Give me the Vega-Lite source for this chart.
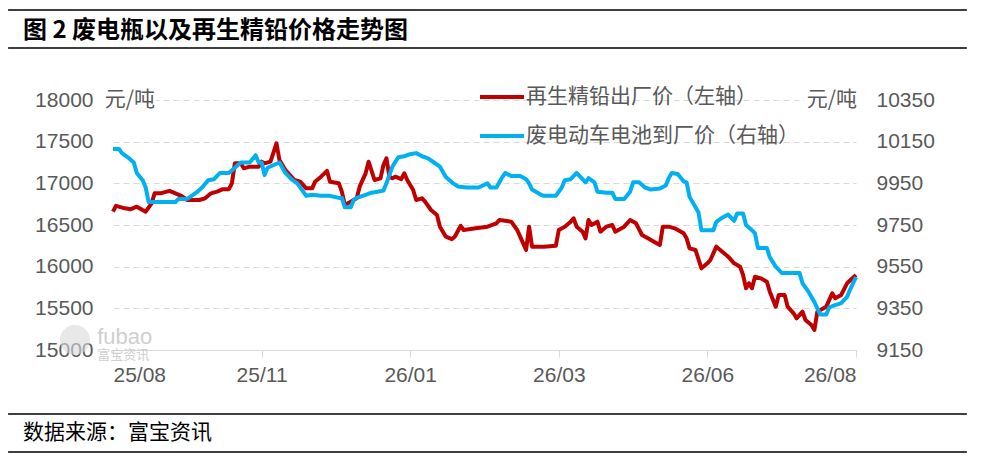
{
  "$schema": "https://vega.github.io/schema/vega-lite/v6.json",
  "width": 743,
  "height": 250,
  "autosize": {"type": "none"},
  "padding": {"left": 113, "top": 100, "right": 136, "bottom": 111},
  "background": "#ffffff",
  "config": {
    "view": {"stroke": null},
    "font": "Liberation Sans",
    "axis": {"labelFont": "Liberation Sans", "labelFontSize": 21, "labelColor": "#595959"},
    "legend": {
      "orient": "none",
      "legendX": 365,
      "legendY": -27,
      "direction": "vertical",
      "symbolType": "stroke",
      "symbolSize": 1936,
      "symbolStrokeWidth": 4,
      "labelFont": "Noto Sans CJK SC",
      "labelFontSize": 21,
      "labelColor": "#595959",
      "labelOffset": 0,
      "labelLimit": 400,
      "rowPadding": 5,
      "padding": 0
    }
  },
  "datasets": {
    "lead": [
      {"i": 0, "price": 16660}, {"i": 1, "price": 16730}, {"i": 4, "price": 16700}, {"i": 6, "price": 16690},
      {"i": 8, "price": 16720}, {"i": 11, "price": 16660}, {"i": 13, "price": 16760}, {"i": 14, "price": 16880},
      {"i": 16, "price": 16880}, {"i": 19, "price": 16910}, {"i": 21, "price": 16880}, {"i": 23, "price": 16850},
      {"i": 25, "price": 16800}, {"i": 29, "price": 16800}, {"i": 31, "price": 16820}, {"i": 33, "price": 16880},
      {"i": 35, "price": 16900}, {"i": 37, "price": 16930}, {"i": 39, "price": 16930}, {"i": 40, "price": 17000},
      {"i": 41, "price": 17240}, {"i": 43, "price": 17240}, {"i": 44, "price": 17180}, {"i": 46, "price": 17200},
      {"i": 49, "price": 17200}, {"i": 50, "price": 17260}, {"i": 51, "price": 17240}, {"i": 53, "price": 17260},
      {"i": 55, "price": 17480}, {"i": 56, "price": 17280}, {"i": 58, "price": 17160}, {"i": 60, "price": 17080},
      {"i": 61, "price": 17040}, {"i": 63, "price": 17020}, {"i": 65, "price": 16940}, {"i": 67, "price": 16940},
      {"i": 68, "price": 17020}, {"i": 70, "price": 17080}, {"i": 72, "price": 17150}, {"i": 73, "price": 17020},
      {"i": 76, "price": 17000}, {"i": 77, "price": 16900}, {"i": 78, "price": 16740}, {"i": 80, "price": 16780},
      {"i": 82, "price": 16820}, {"i": 83, "price": 16960}, {"i": 85, "price": 17120}, {"i": 86, "price": 17260},
      {"i": 88, "price": 17040}, {"i": 90, "price": 17060}, {"i": 91, "price": 17220}, {"i": 92, "price": 17300},
      {"i": 93, "price": 17080}, {"i": 94, "price": 17060}, {"i": 95, "price": 17080}, {"i": 97, "price": 17050},
      {"i": 98, "price": 17120}, {"i": 99, "price": 17040}, {"i": 101, "price": 16920}, {"i": 102, "price": 16800},
      {"i": 104, "price": 16820}, {"i": 105, "price": 16780}, {"i": 107, "price": 16680}, {"i": 109, "price": 16620},
      {"i": 110, "price": 16480}, {"i": 112, "price": 16360}, {"i": 114, "price": 16330}, {"i": 115, "price": 16360},
      {"i": 117, "price": 16490}, {"i": 118, "price": 16440}, {"i": 122, "price": 16460}, {"i": 126, "price": 16480},
      {"i": 129, "price": 16520}, {"i": 130, "price": 16560}, {"i": 132, "price": 16550}, {"i": 134, "price": 16540},
      {"i": 136, "price": 16440}, {"i": 137, "price": 16360}, {"i": 139, "price": 16200}, {"i": 140, "price": 16480},
      {"i": 141, "price": 16240}, {"i": 145, "price": 16240}, {"i": 149, "price": 16250}, {"i": 150, "price": 16440},
      {"i": 152, "price": 16480}, {"i": 154, "price": 16540}, {"i": 155, "price": 16580}, {"i": 156, "price": 16480},
      {"i": 158, "price": 16420}, {"i": 159, "price": 16340}, {"i": 160, "price": 16560}, {"i": 161, "price": 16500},
      {"i": 163, "price": 16540}, {"i": 164, "price": 16420}, {"i": 166, "price": 16480}, {"i": 168, "price": 16500},
      {"i": 169, "price": 16420}, {"i": 172, "price": 16480}, {"i": 174, "price": 16560}, {"i": 176, "price": 16520},
      {"i": 178, "price": 16380}, {"i": 180, "price": 16340}, {"i": 182, "price": 16300}, {"i": 184, "price": 16260},
      {"i": 185, "price": 16480}, {"i": 187, "price": 16480}, {"i": 189, "price": 16460}, {"i": 192, "price": 16400},
      {"i": 193, "price": 16340}, {"i": 194, "price": 16220}, {"i": 196, "price": 16200}, {"i": 198, "price": 15980},
      {"i": 200, "price": 16040}, {"i": 201, "price": 16080}, {"i": 203, "price": 16240}, {"i": 205, "price": 16180},
      {"i": 207, "price": 16120}, {"i": 209, "price": 16040}, {"i": 211, "price": 16000}, {"i": 212, "price": 15900},
      {"i": 213, "price": 15740}, {"i": 214, "price": 15800}, {"i": 215, "price": 15740}, {"i": 216, "price": 15880},
      {"i": 218, "price": 15860}, {"i": 220, "price": 15820}, {"i": 221, "price": 15700}, {"i": 223, "price": 15520},
      {"i": 224, "price": 15660}, {"i": 226, "price": 15660}, {"i": 227, "price": 15520}, {"i": 229, "price": 15440},
      {"i": 230, "price": 15380}, {"i": 232, "price": 15460}, {"i": 233, "price": 15360}, {"i": 235, "price": 15300},
      {"i": 236, "price": 15240}, {"i": 237, "price": 15460}, {"i": 238, "price": 15480}, {"i": 240, "price": 15520},
      {"i": 242, "price": 15680}, {"i": 243, "price": 15620}, {"i": 245, "price": 15660}, {"i": 247, "price": 15800},
      {"i": 250, "price": 15900}
    ],
    "battery": [
      {"i": 0, "price": 10115}, {"i": 2, "price": 10115}, {"i": 3, "price": 10095}, {"i": 5, "price": 10075},
      {"i": 7, "price": 10050}, {"i": 8, "price": 10000}, {"i": 10, "price": 9965}, {"i": 11, "price": 9930},
      {"i": 12, "price": 9860}, {"i": 21, "price": 9860}, {"i": 22, "price": 9875}, {"i": 25, "price": 9875},
      {"i": 28, "price": 9905}, {"i": 30, "price": 9930}, {"i": 32, "price": 9965}, {"i": 34, "price": 9970},
      {"i": 36, "price": 10000}, {"i": 39, "price": 10000}, {"i": 41, "price": 10025}, {"i": 43, "price": 10050},
      {"i": 46, "price": 10050}, {"i": 48, "price": 10085}, {"i": 49, "price": 10050}, {"i": 50, "price": 10050},
      {"i": 51, "price": 9990}, {"i": 52, "price": 10025}, {"i": 56, "price": 10050}, {"i": 58, "price": 10000},
      {"i": 60, "price": 9970}, {"i": 62, "price": 9950}, {"i": 64, "price": 9910}, {"i": 65, "price": 9890},
      {"i": 67, "price": 9895}, {"i": 70, "price": 9890}, {"i": 73, "price": 9890}, {"i": 76, "price": 9880},
      {"i": 77, "price": 9880}, {"i": 78, "price": 9835}, {"i": 80, "price": 9835}, {"i": 81, "price": 9870},
      {"i": 82, "price": 9880}, {"i": 85, "price": 9895}, {"i": 87, "price": 9905}, {"i": 89, "price": 9910},
      {"i": 91, "price": 9915}, {"i": 92, "price": 9950}, {"i": 94, "price": 10030}, {"i": 96, "price": 10075},
      {"i": 98, "price": 10080}, {"i": 100, "price": 10090}, {"i": 102, "price": 10095}, {"i": 104, "price": 10080},
      {"i": 106, "price": 10070}, {"i": 108, "price": 10050}, {"i": 110, "price": 10030}, {"i": 112, "price": 9980},
      {"i": 114, "price": 9955}, {"i": 116, "price": 9935}, {"i": 119, "price": 9930}, {"i": 123, "price": 9930},
      {"i": 126, "price": 9950}, {"i": 127, "price": 9930}, {"i": 129, "price": 9930}, {"i": 131, "price": 9980},
      {"i": 132, "price": 10000}, {"i": 134, "price": 9985}, {"i": 137, "price": 9985}, {"i": 139, "price": 9970},
      {"i": 140, "price": 9950}, {"i": 141, "price": 9920}, {"i": 144, "price": 9895}, {"i": 145, "price": 9890},
      {"i": 149, "price": 9890}, {"i": 151, "price": 9930}, {"i": 152, "price": 9965}, {"i": 154, "price": 9970},
      {"i": 156, "price": 10000}, {"i": 157, "price": 9985}, {"i": 159, "price": 9955}, {"i": 160, "price": 9975},
      {"i": 162, "price": 9955}, {"i": 163, "price": 9910}, {"i": 166, "price": 9905}, {"i": 168, "price": 9905},
      {"i": 169, "price": 9875}, {"i": 172, "price": 9875}, {"i": 174, "price": 9910}, {"i": 175, "price": 9955},
      {"i": 177, "price": 9955}, {"i": 179, "price": 9930}, {"i": 181, "price": 9920}, {"i": 184, "price": 9925},
      {"i": 186, "price": 9940}, {"i": 187, "price": 9975}, {"i": 188, "price": 10000}, {"i": 190, "price": 9995},
      {"i": 192, "price": 9960}, {"i": 193, "price": 9955}, {"i": 194, "price": 9885}, {"i": 196, "price": 9835},
      {"i": 197, "price": 9810}, {"i": 198, "price": 9725}, {"i": 202, "price": 9725}, {"i": 203, "price": 9765},
      {"i": 205, "price": 9785}, {"i": 207, "price": 9800}, {"i": 209, "price": 9770}, {"i": 210, "price": 9805},
      {"i": 212, "price": 9805}, {"i": 213, "price": 9750}, {"i": 215, "price": 9725}, {"i": 216, "price": 9710},
      {"i": 217, "price": 9640}, {"i": 220, "price": 9640}, {"i": 221, "price": 9595}, {"i": 223, "price": 9550},
      {"i": 225, "price": 9520}, {"i": 231, "price": 9520}, {"i": 232, "price": 9470}, {"i": 234, "price": 9430},
      {"i": 236, "price": 9380}, {"i": 238, "price": 9320}, {"i": 240, "price": 9320}, {"i": 241, "price": 9355},
      {"i": 243, "price": 9365}, {"i": 245, "price": 9375}, {"i": 247, "price": 9405}, {"i": 248, "price": 9440},
      {"i": 250, "price": 9500}
    ]
  },
  "layer": [
    {
      "layer": [
        {
          "data": {"values": [{}]},
          "mark": {"type": "point", "filled": true, "color": "#d9d9d9", "opacity": 0.6, "size": 900},
          "encoding": {"x": {"datum": -12.8, "type": "quantitative"}, "y": {"datum": 15120, "type": "quantitative"}}
        },
        {
          "data": {"values": [{}]},
          "mark": {"type": "text", "text": "fubao", "align": "left", "baseline": "middle", "fontSize": 22, "color": "#cfcfcf", "font": "Liberation Sans"},
          "encoding": {"x": {"datum": -5.3, "type": "quantitative"}, "y": {"datum": 15160, "type": "quantitative"}}
        },
        {
          "data": {"values": [{}]},
          "mark": {"type": "text", "text": "富宝资讯", "align": "left", "baseline": "middle", "fontSize": 13, "color": "#cfcfcf", "font": "Noto Sans CJK SC"},
          "encoding": {"x": {"datum": -5.3, "type": "quantitative"}, "y": {"datum": 14935, "type": "quantitative"}}
        },
        {
          "data": {"name": "lead"},
          "mark": {"type": "line", "strokeWidth": 4, "strokeJoin": "round"},
          "encoding": {
            "x": {
              "field": "i",
              "type": "quantitative",
              "scale": {"domain": [0, 250], "nice": false, "zero": false},
              "axis": {
                "title": null,
                "values": [0, 50, 100, 150, 200, 250],
                "labelExpr": "['25/08','25/11','26/01','26/03','26/06','26/08'][datum.value / 50]",
                "grid": false,
                "domainColor": "#d9d9d9",
                "tickColor": "#d9d9d9",
                "tickSize": 7,
                "labelPadding": 7,
                "labelFontSize": 21
              }
            },
            "y": {
              "field": "price",
              "type": "quantitative",
              "scale": {"domain": [15000, 18000], "nice": false, "zero": false},
              "axis": {
                "title": null,
                "orient": "left",
                "values": [15000, 15500, 16000, 16500, 17000, 17500, 18000],
                "format": "d",
                "domain": false,
                "ticks": false,
                "tickSize": 0,
                "labelPadding": 20,
                "grid": true,
                "gridColor": "#d9d9d9",
                "gridDash": [6, 4],
                "gridWidth": 1
              }
            },
            "color": {
              "datum": "再生精铅出厂价（左轴）",
              "scale": {"domain": ["再生精铅出厂价（左轴）", "废电动车电池到厂价（右轴）"], "range": ["#c00000", "#00b0f0"]},
              "legend": {"title": null}
            }
          }
        },
        {
          "data": {"values": [{}]},
          "mark": {"type": "rect", "color": "#ffffff"},
          "encoding": {
            "x": {"datum": -3, "type": "quantitative"}, "x2": {"datum": 14.5},
            "y": {"datum": 18108, "type": "quantitative"}, "y2": {"datum": 17892}
          }
        },
        {
          "data": {"values": [{}]},
          "mark": {"type": "rect", "color": "#ffffff"},
          "encoding": {
            "x": {"datum": 232.5, "type": "quantitative"}, "x2": {"datum": 250.5},
            "y": {"datum": 18108, "type": "quantitative"}, "y2": {"datum": 17892}
          }
        },
        {
          "data": {"values": [{}]},
          "mark": {"type": "text", "text": "元/吨", "align": "center", "baseline": "middle", "fontSize": 21, "color": "#595959", "font": "Noto Sans CJK SC"},
          "encoding": {"x": {"datum": 5.7, "type": "quantitative"}, "y": {"datum": 18000, "type": "quantitative"}}
        },
        {
          "data": {"values": [{}]},
          "mark": {"type": "text", "text": "元/吨", "align": "center", "baseline": "middle", "fontSize": 21, "color": "#595959", "font": "Noto Sans CJK SC"},
          "encoding": {"x": {"datum": 241.9, "type": "quantitative"}, "y": {"datum": 18000, "type": "quantitative"}}
        },
        {
          "data": {"values": [{}]},
          "mark": {"type": "rule", "color": "#3f3f3f", "strokeWidth": 2},
          "encoding": {"x": {"datum": -35.3, "type": "quantitative"}, "x2": {"datum": 287.3}, "y": {"datum": 19080, "type": "quantitative"}}
        },
        {
          "data": {"values": [{}]},
          "mark": {"type": "rule", "color": "#3f3f3f", "strokeWidth": 2},
          "encoding": {"x": {"datum": -35.3, "type": "quantitative"}, "x2": {"datum": 287.3}, "y": {"datum": 18624, "type": "quantitative"}}
        },
        {
          "data": {"values": [{}]},
          "mark": {"type": "rule", "color": "#3f3f3f", "strokeWidth": 2},
          "encoding": {"x": {"datum": -35.3, "type": "quantitative"}, "x2": {"datum": 287.3}, "y": {"datum": 14232, "type": "quantitative"}}
        },
        {
          "data": {"values": [{}]},
          "mark": {"type": "rule", "color": "#3f3f3f", "strokeWidth": 2},
          "encoding": {"x": {"datum": -35.3, "type": "quantitative"}, "x2": {"datum": 287.3}, "y": {"datum": 13776, "type": "quantitative"}}
        },
        {
          "data": {"values": [{}]},
          "mark": {"type": "text", "text": "图 2 废电瓶以及再生精铅价格走势图", "align": "left", "baseline": "middle", "fontSize": 24, "fontWeight": "bold", "color": "#000000", "font": "Noto Sans CJK SC"},
          "encoding": {"x": {"datum": -30.3, "type": "quantitative"}, "y": {"datum": 18830, "type": "quantitative"}}
        },
        {
          "data": {"values": [{}]},
          "mark": {"type": "text", "text": "数据来源：富宝资讯", "align": "left", "baseline": "middle", "fontSize": 21, "color": "#000000", "font": "Noto Sans CJK SC"},
          "encoding": {"x": {"datum": -30.3, "type": "quantitative"}, "y": {"datum": 14004, "type": "quantitative"}}
        }
      ]
    },
    {
      "layer": [
        {
          "data": {"name": "battery"},
          "mark": {"type": "line", "strokeWidth": 4, "strokeJoin": "round"},
          "encoding": {
            "x": {"field": "i", "type": "quantitative"},
            "y": {
              "field": "price",
              "type": "quantitative",
              "scale": {"domain": [9150, 10350], "nice": false, "zero": false},
              "axis": {
                "title": null,
                "orient": "right",
                "values": [9150, 9350, 9550, 9750, 9950, 10150, 10350],
                "format": "d",
                "domain": false,
                "ticks": false,
                "tickSize": 0,
                "labelPadding": 20,
                "grid": false
              }
            },
            "color": {"datum": "废电动车电池到厂价（右轴）"}
          }
        }
      ]
    }
  ],
  "resolve": {"scale": {"y": "independent"}}
}
